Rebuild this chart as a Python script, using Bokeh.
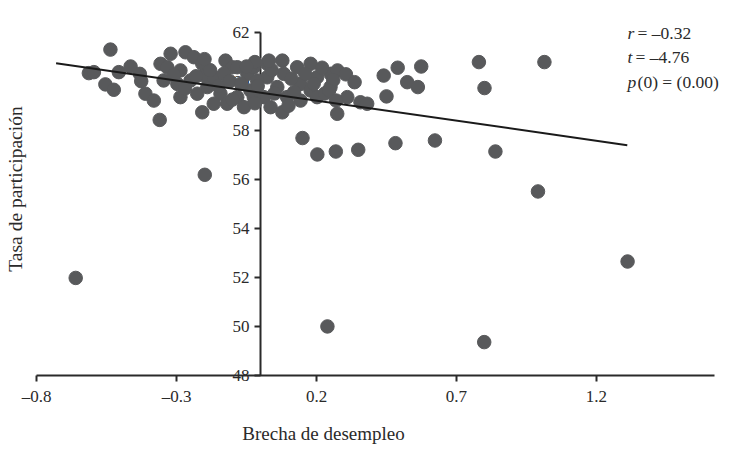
import math
from bokeh.plotting import figure
from bokeh.models import Range1d, FixedTicker, ColumnDataSource, LabelSet, Label
from bokeh.embed import file_html
from bokeh.resources import INLINE

# ---- data ----
brecha = [
    -0.66, -0.536, -0.613, -0.595, -0.554, -0.524, -0.506, -0.464, -0.431, -0.426,
    -0.411, -0.381, -0.360, -0.357, -0.346, -0.321, -0.268, -0.238, -0.333, -0.208,
    -0.202, -0.286, -0.297, -0.250, -0.286, -0.226, -0.190, -0.167, -0.125, -0.101,
    -0.131, -0.143, -0.167, -0.119, -0.083, -0.047, -0.036, -0.059, -0.208, -0.083,
    -0.024, -0.020, -0.199,
    0.024, 0.024, 0.012, 0.036, 0.078, 0.083, 0.060, 0.095, 0.078, 0.131,
    0.143, 0.143, 0.179, 0.179, 0.202, 0.202, 0.250, 0.250, 0.275, 0.310,
    0.274, -0.024, -0.012, 0.305, 0.336, 0.357, 0.381, 0.440, 0.490, 0.574,
    0.524, 0.562, 0.450,
    0.150, 0.203, 0.269, 0.349, 0.482, 0.623, 0.839, 0.991, 1.311, 0.239,
    0.799, 0.780, 1.014, 0.800,
    -0.31, -0.27, -0.23, -0.18, -0.15, -0.11, -0.07, -0.05, -0.01, 0.04,
    0.05, 0.11, 0.12, 0.16, 0.19, 0.22, 0.23, 0.26, -0.02, 0.10,
    -0.10, 0.245, 0.27, -0.20, 0.03,
]
tasa = [
    51.97, 61.29, 60.33, 60.37, 59.87, 59.65, 60.37, 60.60, 60.30, 60.00,
    59.49, 59.21, 58.42, 60.71, 60.03, 61.12, 61.18, 60.98, 60.57, 60.71,
    60.23, 60.44, 59.89, 60.03, 59.35, 59.49, 59.76, 60.16, 60.84, 60.57,
    60.30, 59.49, 59.08, 59.08, 59.35, 60.30, 59.62, 58.94, 58.73, 60.57,
    60.57, 60.78, 56.18,
    60.71, 60.16, 59.35, 58.94, 60.84, 60.30, 59.76, 59.35, 58.73, 60.57,
    59.89, 59.21, 60.71, 59.62, 60.16, 59.35, 60.30, 59.76, 60.44, 59.35,
    58.67, 59.35, 60.03, 60.28, 59.96, 59.14, 59.08, 60.23, 60.55, 60.60,
    59.96, 59.76, 59.38,
    57.68, 57.01, 57.13, 57.20, 57.47, 57.58, 57.13, 55.50, 52.64, 49.99,
    49.35, 60.78, 60.78, 59.72,
    60.25, 59.70, 60.20, 60.45, 59.80, 60.00, 59.90, 60.60, 59.80, 60.45,
    59.50, 60.10, 59.55, 60.30, 59.90, 60.55, 59.50, 60.05, 59.10, 59.00,
    59.25, 59.62, 59.21, 60.90, 60.84,
]

fit_x = [-0.73, 1.31]
fit_y = [60.73, 57.39]

x_ticks = [-0.8, -0.3, 0.2, 0.7, 1.2]
x_tick_labels = ["\u20130.8", "\u20130.3", "0.2", "0.7", "1.2"]
y_ticks = [48, 50, 52, 54, 56, 58, 60, 62]

stat_vars = ["r", "t", "p"]
stat_rest = [" = \u20130.32", " = \u20134.76", "(0) = (0.00)"]

x_title = "Brecha de desempleo"
y_title = "Tasa de participaci\u00f3n"

# ---- style ----
FONT = "Liberation Serif"
INK = "#2a2a2a"
DOT = "#58595b"

# the whole canvas is the plotting frame; axes are fixed at x=0 and y=48
p = figure(width=730, height=448, output_backend="svg", toolbar_location=None,
           x_range=Range1d(-0.9286, 1.6786), y_range=Range1d(45.008, 63.294),
           min_border_left=0, min_border_right=0, min_border_top=0,
           min_border_bottom=0)
p.title.text = ""
p.title.visible = False
p.outline_line_color = None
p.xgrid.grid_line_color = None
p.ygrid.grid_line_color = None
p.background_fill_color = "white"
p.border_fill_color = "white"

# x axis at y = 48
xa = p.xaxis[0]
xa.fixed_location = 48
xa.bounds = (-0.8, 1.62)
xa.ticker = FixedTicker(ticks=x_ticks)
xa.major_label_overrides = {t: s for t, s in zip(x_ticks, x_tick_labels)}
xa.axis_line_width = 2
xa.axis_line_color = INK
xa.major_tick_line_color = INK
xa.major_tick_line_width = 2
xa.major_tick_out = 6
xa.major_tick_in = 0
xa.minor_tick_line_color = None
xa.major_label_standoff = 6
xa.major_label_text_font = FONT
xa.major_label_text_font_size = "17px"
xa.major_label_text_color = INK

# y axis crossing at x = 0
ya = p.yaxis[0]
ya.fixed_location = 0
ya.bounds = (48, 62)
ya.ticker = FixedTicker(ticks=y_ticks)
ya.axis_line_width = 2
ya.axis_line_color = INK
ya.major_tick_line_color = INK
ya.major_tick_line_width = 2
ya.major_tick_out = 6
ya.major_tick_in = 0
ya.minor_tick_line_color = None
ya.major_label_standoff = 5
ya.major_label_text_font = FONT
ya.major_label_text_font_size = "17px"
ya.major_label_text_color = INK

# axis titles
p.add_layout(Label(x=0.225, y=45.62, text=x_title, text_font=FONT,
                   text_font_size="19px", text_color=INK,
                   text_align="center", text_baseline="middle"))
p.add_layout(Label(x=-0.875, y=55.6, text=y_title, angle=math.pi / 2,
                   text_font=FONT, text_font_size="19.5px", text_color=INK,
                   text_align="center", text_baseline="middle"))

# points and fit line (drawn above the crossing axis)
src = ColumnDataSource(dict(x=brecha, y=tasa))
pts = p.scatter("x", "y", source=src, size=13.5, fill_color=DOT, line_color=DOT)
pts.level = "annotation"
fit = p.line(fit_x, fit_y, line_color="#1a1a1a", line_width=2)
fit.level = "annotation"

# statistics annotation
ann = ColumnDataSource(dict(x=[1.311] * 3, y=[61.95, 60.98, 59.96],
                            v=stat_vars, r=stat_rest, off=[10, 8, 10]))
p.add_layout(LabelSet(x="x", y="y", text="v", source=ann,
                      text_font=FONT, text_font_style="italic",
                      text_font_size="17.5px", text_color=INK,
                      text_baseline="middle", text_align="left"))
p.add_layout(LabelSet(x="x", y="y", text="r", x_offset="off", source=ann,
                      text_font=FONT, text_font_size="17.5px", text_color=INK,
                      text_baseline="middle", text_align="left"))

open("out.html", "w").write(file_html(p, INLINE))
